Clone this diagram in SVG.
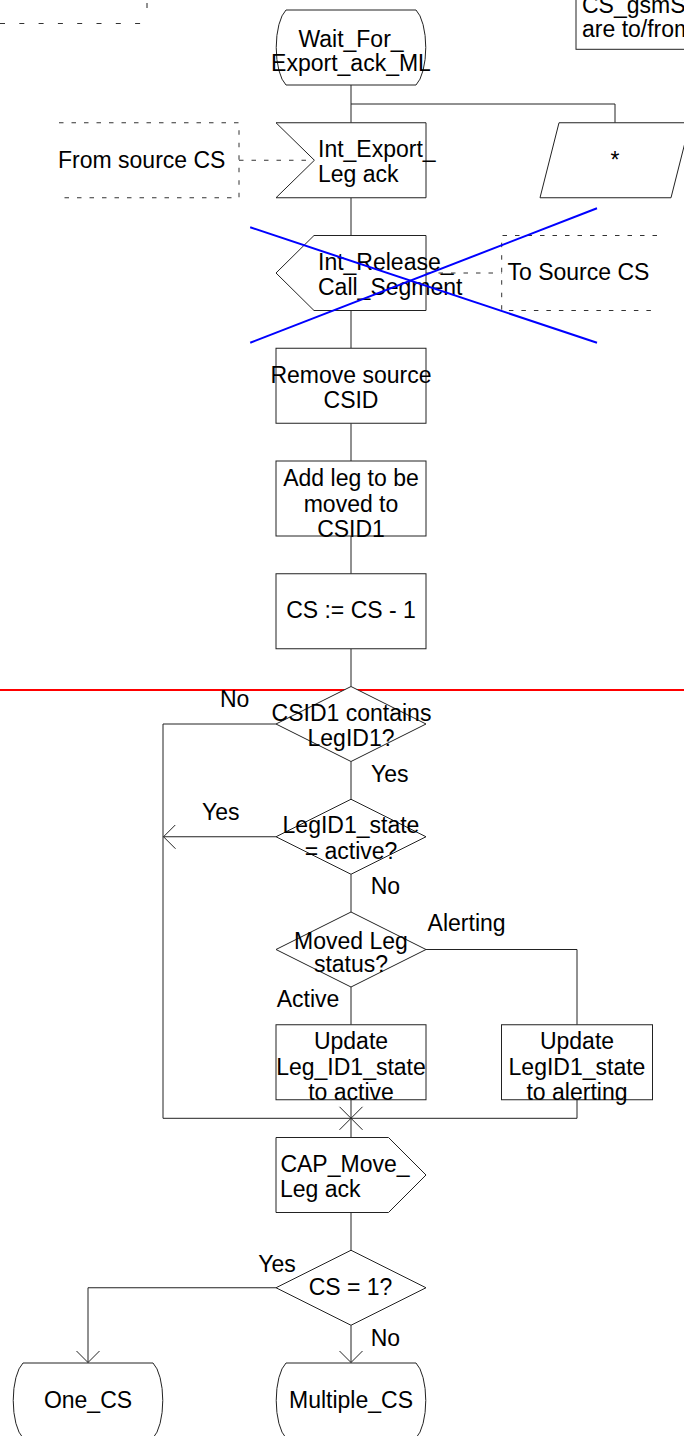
<svg xmlns="http://www.w3.org/2000/svg" width="684" height="1436" viewBox="0 0 684 1436">
  <style>
    .shape { fill: #ffffff; stroke: #222222; stroke-width: 1; }
    .line { fill: none; stroke: #222222; stroke-width: 1; }
    .dash { fill: none; stroke: #333333; stroke-width: 1; stroke-dasharray: 4.5 8; }
    .dash-wide { fill: none; stroke: #333333; stroke-width: 1; stroke-dasharray: 5 14.3; }
    .strike { fill: none; stroke: #0000ff; stroke-width: 2; }
    .cut { fill: none; stroke: #ff0000; stroke-width: 2; }
    text { font-family: "Liberation Sans", Arial, sans-serif; font-size: 23px; fill: #000000; }
    .c { text-anchor: middle; }
  </style>
  <defs>
    <marker id="open-arrow" viewBox="0 0 14 24" refX="12" refY="12" markerWidth="14" markerHeight="24" markerUnits="userSpaceOnUse" orient="auto">
      <path d="M0,0 L12,12 L0,24" fill="none" stroke="#222222" stroke-width="1"/>
    </marker>
  </defs>

  <rect width="684" height="1436" fill="#ffffff"/>

  <!-- comment fragments at the page edges -->
  <g id="comment-top-left">
    <path class="dash-wide" d="M0,23.5 H143"/>
    <path class="line" d="M147,3 V8" stroke="#777777"/>
  </g>
  <g id="comment-top-right">
    <rect class="shape" x="576" y="-10" width="140" height="59.3"/>
    <text x="582" y="12.7">CS_gsmS</text>
    <text x="582" y="36.7">are to/from</text>
  </g>

  <!-- connectors -->
  <g id="connectors">
    <path class="line" d="M351,85 V122.75"/>
    <path class="line" d="M351,104 H615 V122.75"/>
    <path class="line" d="M351,197.75 V235.5"/>
    <path class="line" d="M351,310.5 V348.25"/>
    <path class="line" d="M351,423.25 V461"/>
    <path class="line" d="M351,536 V573.75"/>
    <path class="line" d="M351,648.75 V686.5"/>
    <path class="line" d="M351,761.5 V799.25"/>
    <path class="line" d="M351,874.25 V912"/>
    <path class="line" d="M351,987 V1024.75"/>
    <path class="line" d="M426,949.5 H577 V1024.75"/>
    <path class="line" d="M276,724 H163 V1118.3 H577 V1099.75"/>
    <path class="line" d="M276,836.75 H163.5" marker-end="url(#open-arrow)"/>
    <path class="line" d="M351,1099.75 V1118.3"/>
    <path class="line" d="M351,1118.3 V1137.5" stroke-width="2"/>
    <path class="line" d="M339.5,1106.8 L362.5,1129.8 M339.5,1129.8 L362.5,1106.8"/>
    <path class="line" d="M351,1212.5 V1250.25"/>
    <path class="line" d="M351,1325.25 V1362.5" marker-end="url(#open-arrow)"/>
    <path class="line" d="M276,1287.75 H88 V1362.5" marker-end="url(#open-arrow)"/>
    <path class="dash" d="M239,160.25 H314"/>
    <path class="dash" d="M426,273 H501.7"/>
  </g>

  <g id="state-wait-for-export-ack">
    <path class="shape" d="M286,10 H416 A15 40 0 0 1 416,85 H286 A15 40 0 0 1 286,10 Z"/>
    <text class="c" x="351" y="46.5">Wait_For_</text>
    <text class="c" x="351" y="70.5">Export_ack_ML</text>
  </g>

  <g id="input-int-export-leg-ack">
    <path class="shape" d="M276,122.75 H426 V197.75 H276 L314.4,160.25 Z"/>
    <text x="318" y="156.7">Int_Export_</text>
    <text x="318" y="182">Leg ack</text>
  </g>

  <g id="comment-from-source">
    <path class="dash" d="M59,122.75 H239 V197.75 H59"/>
    <text x="58" y="168">From source CS</text>
  </g>

  <g id="input-any">
    <path class="shape" d="M559,122.75 H690 L671,197.75 H540 Z"/>
    <text class="c" x="615" y="168">*</text>
  </g>

  <g id="output-int-release-call-segment">
    <path class="shape" d="M314,235.5 H426 V310.5 H314 L276,273 Z"/>
    <text x="318" y="270">Int_Release_</text>
    <text x="318" y="295">Call_Segment</text>
  </g>

  <g id="comment-to-source">
    <path class="dash" d="M657,235.5 H501.7 V310.5 H657"/>
    <text x="507.5" y="280">To Source CS</text>
  </g>

  <!-- strike-through over the release output -->
  <g id="strike-release">
    <path class="strike" d="M250.2,227.3 L597,342.7"/>
    <path class="strike" d="M250.2,342.7 L597,208.3"/>
  </g>

  <g id="task-remove-source">
    <rect class="shape" x="276" y="348.25" width="150" height="75"/>
    <text class="c" x="351" y="382.7">Remove source</text>
    <text class="c" x="351" y="408.3">CSID</text>
  </g>

  <g id="task-add-leg">
    <rect class="shape" x="276" y="461" width="150" height="75"/>
    <text class="c" x="351" y="485.7">Add leg to be</text>
    <text class="c" x="351" y="511.7">moved to</text>
    <text class="c" x="351" y="536.7">CSID1</text>
  </g>

  <g id="task-decrement-cs">
    <rect class="shape" x="276" y="573.75" width="150" height="75"/>
    <text class="c" x="351" y="618.3">CS := CS - 1</text>
  </g>

  <!-- page break marker -->
  <path class="cut" d="M0,690 H684"/>

  <g id="decision-csid1-contains">
    <path class="shape" d="M351,686.5 L426,724 L351,761.5 L276,724 Z"/>
    <text class="c" x="351.5" y="720.7">CSID1 contains</text>
    <text class="c" x="351" y="745.7">LegID1?</text>
    <text x="220" y="707.3">No</text>
    <text x="371" y="781.7">Yes</text>
  </g>

  <g id="decision-legid1-active">
    <path class="shape" d="M351,799.25 L426,836.75 L351,874.25 L276,836.75 Z"/>
    <text class="c" x="351" y="832.7">LegID1_state</text>
    <text class="c" x="351" y="859">= active?</text>
    <text x="202" y="820">Yes</text>
    <text x="370.7" y="894.3">No</text>
  </g>

  <g id="decision-moved-leg-status">
    <path class="shape" d="M351,912 L426,949.5 L351,987 L276,949.5 Z"/>
    <text class="c" x="351" y="949.3">Moved Leg</text>
    <text class="c" x="351" y="971.7">status?</text>
    <text x="427.6" y="930.7">Alerting</text>
    <text x="276.7" y="1007.3">Active</text>
  </g>

  <g id="task-update-active">
    <rect class="shape" x="276" y="1024.75" width="150" height="75"/>
    <text class="c" x="351" y="1049.3">Update</text>
    <text class="c" x="351" y="1075">Leg_ID1_state</text>
    <text class="c" x="351" y="1100">to active</text>
  </g>

  <g id="task-update-alerting">
    <rect class="shape" x="501.5" y="1024.75" width="151" height="75"/>
    <text class="c" x="577" y="1049.3">Update</text>
    <text class="c" x="577" y="1075">LegID1_state</text>
    <text class="c" x="577" y="1100">to alerting</text>
  </g>

  <g id="output-cap-move-leg-ack">
    <path class="shape" d="M276,1137.5 H388.5 L426,1175 L388.5,1212.5 H276 Z"/>
    <text x="280.4" y="1172.3">CAP_Move_</text>
    <text x="280" y="1196.7">Leg ack</text>
  </g>

  <g id="decision-cs-one">
    <path class="shape" d="M351,1250.25 L426,1287.75 L351,1325.25 L276,1287.75 Z"/>
    <text class="c" x="350.5" y="1295">CS = 1?</text>
    <text x="258.3" y="1271.7">Yes</text>
    <text x="370.7" y="1345.7">No</text>
  </g>

  <g id="state-one-cs">
    <path class="shape" d="M23,1363 H153 A15 40 0 0 1 153,1438 H23 A15 40 0 0 1 23,1363 Z"/>
    <text class="c" x="88" y="1408.3">One_CS</text>
  </g>

  <g id="state-multiple-cs">
    <path class="shape" d="M286,1363 H416 A15 40 0 0 1 416,1438 H286 A15 40 0 0 1 286,1363 Z"/>
    <text class="c" x="351" y="1408.3">Multiple_CS</text>
  </g>
</svg>
